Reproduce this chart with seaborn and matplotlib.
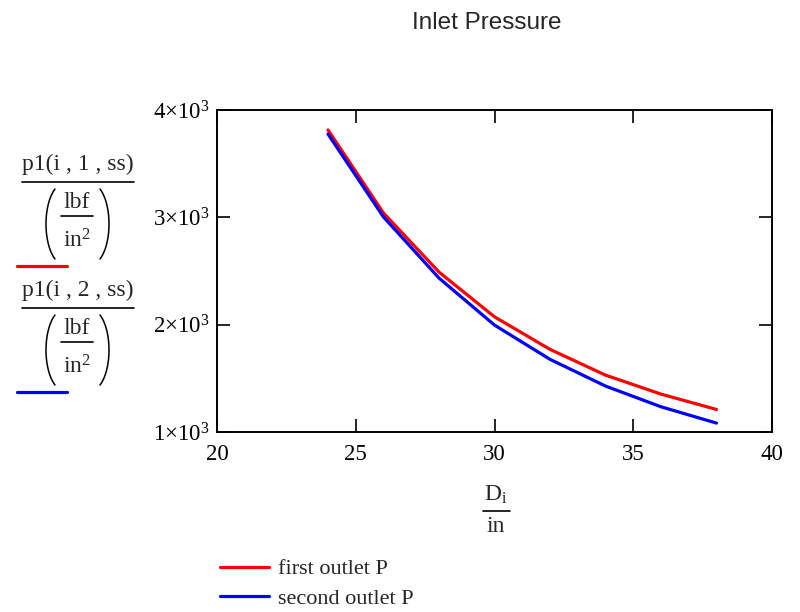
import matplotlib
matplotlib.use("Agg")
import matplotlib.pyplot as plt
import seaborn as sns
import numpy as np
import pandas as pd
from matplotlib.lines import Line2D
from matplotlib.ticker import FuncFormatter

# data
diameter = [24, 26, 28, 30, 32, 34, 36, 38]
p_first = [3814, 3040, 2490, 2073, 1770, 1530, 1353, 1210]
p_second = [3776, 3003, 2434, 1996, 1677, 1428, 1235, 1083]
series_names = ["first outlet P", "second outlet P"]
series_colors = ["#ff0000", "#0000ff"]
y_numerators = ["p1(i , 1 , ss)", "p1(i , 2 , ss)"]
x_ticks = [20, 25, 30, 35, 40]
y_ticks = [1000, 2000, 3000, 4000]

df = pd.DataFrame({
    "D": diameter * 2,
    "P": p_first + p_second,
    "series": [series_names[0]] * len(diameter) + [series_names[1]] * len(diameter),
})

sns.set_style("ticks")
plt.rcParams["font.family"] = ["Liberation Serif", "DejaVu Serif"]
plt.rcParams["mathtext.fontset"] = "custom"
plt.rcParams["mathtext.rm"] = "Liberation Serif"
plt.rcParams["mathtext.it"] = "Liberation Serif:italic"

W, H = 800, 612
fig = plt.figure(figsize=(W / 100, H / 100), dpi=100)
ax = fig.add_axes([217 / W, 1 - 432 / H, 555 / W, 322 / H])

sns.lineplot(data=df, x="D", y="P", hue="series", palette=series_colors,
             linewidth=2.3, ax=ax, legend=False)

ax.set_xlim(20, 40)
ax.set_ylim(1000, 4000)
ax.set_xticks(x_ticks)
ax.set_yticks(y_ticks)
ax.yaxis.set_major_formatter(FuncFormatter(lambda v, p: r"$%d{\times}10^{3}$" % (v / 1000)))
ax.tick_params(direction="in", length=9.5, width=1.2, top=True, right=True,
               labelsize=16.5, colors="black")
ax.tick_params(axis="x", pad=9)
ax.tick_params(axis="y", pad=5)
for s in ax.spines.values():
    s.set_linewidth(1.4)
    s.set_color("black")
ax.set_xlabel("")
ax.set_ylabel("")


# helpers working in reference pixel coordinates (y down from top)
def ptext(x, y, s, size=17, **kw):
    fig.text(x / W, 1 - y / H, s, ha="center", va="center", fontsize=size, **kw)


def pline(x0, x1, y, **kw):
    fig.add_artist(Line2D([x0 / W, x1 / W], [1 - y / H, 1 - y / H], **kw))


def paren(x_tip, yc, left=True, half_h=35, bulge=9):
    # thin tall bracket: elliptical arc, tips at x_tip, bulging outwards
    t = np.linspace(-np.pi / 3, np.pi / 3, 40)
    a = bulge / (1 - np.cos(np.pi / 3))
    b = half_h / np.sin(np.pi / 3)
    sign = -1 if left else 1
    xs = x_tip + sign * (bulge - (a - a * np.cos(t)))
    ys = yc + b * np.sin(t)
    fig.add_artist(Line2D(xs / W, 1 - ys / H, color="black", lw=1.1))


# x label as a fraction
ptext(496, 495, r"D$_{\mathrm{i}}$", size=17)
pline(483, 510, 511, color="black", lw=1.2)
ptext(496, 527, "in", size=17)

# y labels stacked on the left, each with its colour swatch
for k, (num, col) in enumerate(zip(y_numerators, series_colors)):
    dy = 126 * k
    ptext(78, 164 + dy, num, size=17)
    pline(22, 134, 182 + dy, color="black", lw=1.2)
    paren(55, 224 + dy, left=True)
    paren(100, 224 + dy, left=False)
    ptext(77, 203 + dy, "lbf", size=17)
    pline(61, 93, 216 + dy, color="black", lw=1.2)
    ptext(77, 241 + dy, r"in$^{2}$", size=17)
    pline(17, 67, 266 + dy, color=col, lw=2.3)

fig.text(487 / W, 1 - 23 / H, "Inlet Pressure", ha="center", va="center",
         fontsize=17.5, family="Liberation Sans")

handles = [Line2D([], [], color=c, lw=2.3) for c in series_colors]
fig.legend(handles, series_names, loc="upper left", bbox_to_anchor=(0.275, 0.087),
           frameon=False, fontsize=16, handlelength=2.2, handletextpad=0.42,
           labelspacing=0.4, borderaxespad=0, borderpad=0)

fig.savefig("out.png", dpi=100)
